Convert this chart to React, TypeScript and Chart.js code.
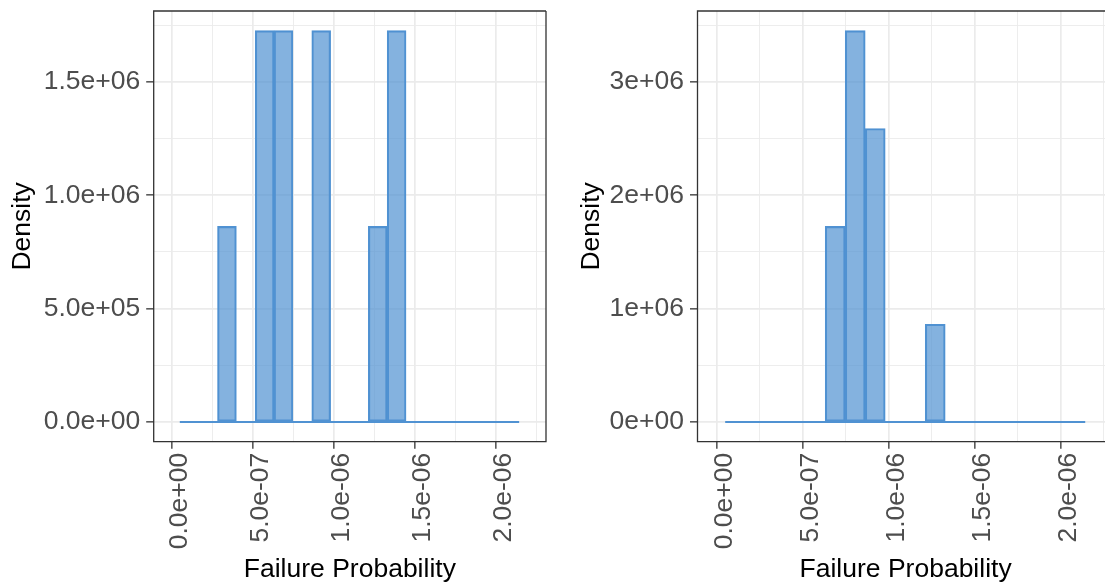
import React, { useEffect, useRef } from "react";
import { Chart, registerables } from "chart.js";

Chart.register(...registerables);

// ---- data (histogram bins shared by both panels) ----
const binCenters = [
  0.1092e-6, 0.2255e-6, 0.3418e-6, 0.4581e-6, 0.5744e-6, 0.6907e-6,
  0.807e-6, 0.9233e-6, 1.0396e-6, 1.1559e-6, 1.2722e-6, 1.3885e-6,
  1.5048e-6, 1.6211e-6, 1.7374e-6, 1.8537e-6, 1.97e-6, 2.0863e-6,
];
const binRange = [0.051e-6, 2.1444e-6];

const densityLeft = [
  0, 0, 8.63e5, 0, 1.726e6, 1.726e6, 0, 1.726e6, 0, 0, 8.63e5, 1.726e6,
  0, 0, 0, 0, 0, 0,
];
const densityRight = [
  0, 0, 0, 0, 0, 1.726e6, 3.452e6, 2.589e6, 0, 0, 8.63e5, 0,
  0, 0, 0, 0, 0, 0,
];

const xLimits = [-0.11e-6, 2.31e-6];
const xMajorTicks = [0, 0.5e-6, 1.0e-6, 1.5e-6, 2.0e-6];
const xTickLabels = ["0.0e+00", "5.0e-07", "1.0e-06", "1.5e-06", "2.0e-06"];
const xMinorTicks = [0.25e-6, 0.75e-6, 1.25e-6, 1.75e-6, 2.25e-6];

const yLimitsLeft = [-0.0863e6, 1.8123e6];
const yMajorTicksLeft = [0, 5e5, 1e6, 1.5e6];
const yTickLabelsLeft = ["0.0e+00", "5.0e+05", "1.0e+06", "1.5e+06"];
const yMinorTicksLeft = [2.5e5, 7.5e5, 1.25e6, 1.75e6];

const yLimitsRight = [-0.1726e6, 3.6246e6];
const yMajorTicksRight = [0, 1e6, 2e6, 3e6];
const yTickLabelsRight = ["0e+00", "1e+06", "2e+06", "3e+06"];
const yMinorTicksRight = [0.5e6, 1.5e6, 2.5e6, 3.5e6];

const xTitle = "Failure Probability";
const yTitle = "Density";

// ---- styles ----
const FONT = "'Liberation Sans', Arial, Helvetica, sans-serif";
const LINE = "rgb(80,146,210)";
const FILL = "rgba(80,146,210,0.7)";
const GRID = "#EBEBEB";
const DARK = "#333333";
const TICKTXT = "#4D4D4D";
const CANVAS_W = 560;
const CANVAS_H = 586;
const PANEL_TOP = 11;
const PANEL_BOTTOM = 441.7;

type Spec = {
  density: number[];
  yLimits: number[];
  yMajor: number[];
  yLabels: string[];
  yMinor: number[];
  yAxisWidth: number;
  padRight: number;
  titlePad: number;
};

function buildChart(canvas: HTMLCanvasElement, spec: Spec) {
  const isXMajor = (v: any) => xMajorTicks.indexOf(v) >= 0;
  const isYMajor = (v: any) => spec.yMajor.indexOf(v) >= 0;
  const panelBorder = {
    id: "panelBorder",
    afterDraw(chart: any) {
      const { ctx, chartArea: a } = chart;
      ctx.save();
      ctx.strokeStyle = DARK;
      ctx.lineWidth = 1.3;
      ctx.beginPath();
      ctx.moveTo(a.right, a.top);
      ctx.lineTo(a.left, a.top);
      ctx.lineTo(a.left, a.bottom);
      ctx.lineTo(a.right, a.bottom);
      if (a.right < chart.width - 1) ctx.lineTo(a.right, a.top);
      ctx.stroke();
      ctx.restore();
    },
  };
  return new Chart(canvas, {
    type: "bar",
    data: {
      datasets: [
        {
          type: "bar",
          data: binCenters.map((x, i) => ({ x, y: spec.density[i] })),
          backgroundColor: FILL,
          borderColor: LINE,
          borderWidth: 1.5,
          borderSkipped: false,
          barPercentage: 1,
          categoryPercentage: 1,
        } as any,
        {
          type: "line",
          data: binRange.map((x) => ({ x, y: 0 })),
          borderColor: LINE,
          borderWidth: 2,
          pointRadius: 0,
          fill: false,
          borderCapStyle: "butt",
        } as any,
      ],
    },
    options: {
      responsive: false,
      maintainAspectRatio: false,
      animation: false,
      devicePixelRatio: 1,
      events: [],
      layout: { padding: { left: 0, top: PANEL_TOP, right: spec.padRight, bottom: 0 } },
      plugins: {
        legend: { display: false },
        tooltip: { enabled: false },
        title: { display: false },
      },
      scales: {
        x: {
          type: "linear",
          min: xLimits[0],
          max: xLimits[1],
          offset: false,
          afterBuildTicks: (s: any) => {
            s.ticks = [...xMajorTicks, ...xMinorTicks]
              .sort((a, b) => a - b)
              .map((value) => ({ value }));
          },
          afterFit: (s: any) => {
            s.height = CANVAS_H - PANEL_BOTTOM;
            s.paddingLeft = 0;
            s.paddingRight = 0;
          },
          ticks: {
            autoSkip: false,
            minRotation: 90,
            maxRotation: 90,
            padding: 4,
            labelOffset: 8,
            color: TICKTXT,
            font: { family: FONT, size: 26.5 },
            callback: (v: any) => {
              const i = xMajorTicks.indexOf(v);
              return i >= 0 ? xTickLabels[i] : "";
            },
          },
          grid: {
            offset: false,
            color: GRID,
            lineWidth: (c: any) => (isXMajor(c.tick && c.tick.value) ? 1.7 : 0.9),
            drawTicks: true,
            tickLength: 7,
            tickColor: (c: any) => (isXMajor(c.tick && c.tick.value) ? DARK : "rgba(0,0,0,0)"),
            tickWidth: 1.3,
          },
          border: { display: false },
          title: {
            display: true,
            text: xTitle,
            color: "#000000",
            font: { family: FONT, size: 26.5 },
            padding: { top: 0, bottom: 0 },
          },
        } as any,
        y: {
          type: "linear",
          min: spec.yLimits[0],
          max: spec.yLimits[1],
          afterBuildTicks: (s: any) => {
            s.ticks = [...spec.yMajor, ...spec.yMinor]
              .sort((a, b) => a - b)
              .map((value) => ({ value }));
          },
          afterFit: (s: any) => {
            s.width = spec.yAxisWidth;
            s.paddingTop = 0;
            s.paddingBottom = 0;
          },
          ticks: {
            autoSkip: false,
            padding: 6,
            color: TICKTXT,
            font: { family: FONT, size: 26.5 },
            callback: (v: any) => {
              const i = spec.yMajor.indexOf(v);
              return i >= 0 ? spec.yLabels[i] : "";
            },
          },
          grid: {
            color: GRID,
            lineWidth: (c: any) => (isYMajor(c.tick && c.tick.value) ? 1.7 : 0.9),
            drawTicks: true,
            tickLength: 7.5,
            tickColor: (c: any) => (isYMajor(c.tick && c.tick.value) ? DARK : "rgba(0,0,0,0)"),
            tickWidth: 1.3,
          },
          border: { display: false },
          title: {
            display: true,
            text: yTitle,
            color: "#000000",
            font: { family: FONT, size: 26.5 },
            padding: { top: spec.titlePad, bottom: 0 },
          },
        } as any,
      },
    },
    plugins: [panelBorder],
  } as any);
}

export default function App() {
  const leftRef = useRef<HTMLCanvasElement | null>(null);
  const rightRef = useRef<HTMLCanvasElement | null>(null);

  useEffect(() => {
    const a = buildChart(leftRef.current as HTMLCanvasElement, {
      density: densityLeft,
      yLimits: yLimitsLeft,
      yMajor: yMajorTicksLeft,
      yLabels: yTickLabelsLeft,
      yMinor: yMinorTicksLeft,
      yAxisWidth: 153.7,
      padRight: CANVAS_W - 546,
      titlePad: 6.9,
    });
    const b = buildChart(rightRef.current as HTMLCanvasElement, {
      density: densityRight,
      yLimits: yLimitsRight,
      yMajor: yMajorTicksRight,
      yLabels: yTickLabelsRight,
      yMinor: yMinorTicksRight,
      yAxisWidth: 137.5,
      padRight: CANVAS_W - (1113.7 - 560),
      titlePad: 16.1,
    });
    return () => {
      a.destroy();
      b.destroy();
    };
  }, []);

  return (
    <div
      style={{
        position: "fixed",
        left: 0,
        top: 0,
        width: 1105,
        height: 586,
        overflow: "hidden",
        background: "#ffffff",
      }}
    >
      <canvas
        ref={leftRef}
        width={CANVAS_W}
        height={CANVAS_H}
        style={{ position: "absolute", left: 0, top: 0, width: CANVAS_W, height: CANVAS_H }}
      />
      <canvas
        ref={rightRef}
        width={CANVAS_W}
        height={CANVAS_H}
        style={{ position: "absolute", left: 560, top: 0, width: CANVAS_W, height: CANVAS_H }}
      />
    </div>
  );
}
